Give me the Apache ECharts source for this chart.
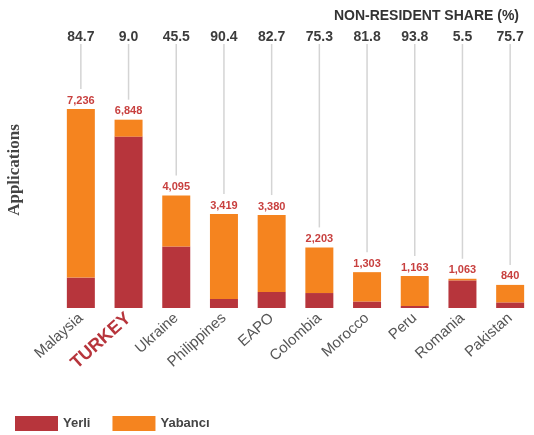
<!DOCTYPE html>
<html>
<head>
<meta charset="utf-8">
<script src="https://cdn.jsdelivr.net/npm/echarts@6/dist/echarts.min.js"></script>
<style>
  html, body { margin: 0; padding: 0; background: #fff; }
  #chart { width: 534px; height: 435px; }
</style>
</head>
<body>
<div id="chart"></div>
<script>
// categories and values
const countries = ['Malaysia', 'TURKEY', 'Ukraine', 'Philippines', 'EAPO', 'Colombia', 'Morocco', 'Peru', 'Romania', 'Pakistan'];
const shares = ['84.7', '9.0', '45.5', '90.4', '82.7', '75.3', '81.8', '93.8', '5.5', '75.7'];
const totals = [7236, 6848, 4095, 3419, 3380, 2203, 1303, 1163, 1063, 840];
const yerli = [1107, 6232, 2232, 328, 585, 544, 237, 72, 1005, 204];
const yabanci = [6129, 616, 1863, 3091, 2795, 1659, 1066, 1091, 58, 636];

const RED = '#b7353c';
const ORANGE = '#f5841f';
const FONT = 'Liberation Sans, Arial, sans-serif';

const chart = echarts.init(document.getElementById('chart'));

chart.setOption({
  animation: false,
  textStyle: { fontFamily: FONT },
  title: {
    text: 'NON-RESIDENT SHARE (%)',
    right: 10, top: 4,
    textStyle: { fontSize: 14, fontWeight: 'bold', color: '#333', fontFamily: FONT }
  },
  legend: {
    left: 15, bottom: 4,
    padding: 0,
    itemWidth: 43, itemHeight: 15, itemGap: 22,
    icon: 'rect',
    data: ['Yerli', 'Yabancı'],
    textStyle: { fontSize: 13, color: '#444', fontWeight: 'bold' }
  },
  graphic: [{
    type: 'text',
    x: 15, y: 170,
    rotation: Math.PI / 2,
    style: {
      text: 'Applications',
      font: 'bold 17px Liberation Serif, Times New Roman, serif',
      fill: '#444',
      align: 'center',
      verticalAlign: 'middle'
    }
  }],
  grid: { left: 57, right: -9, top: 88, bottom: 127 },
  xAxis: [{
    type: 'category',
    data: countries,
    axisLine: { show: false },
    axisTick: { show: false },
    axisLabel: {
      rotate: 42, interval: 0, margin: 8,
      fontSize: 15, color: '#555',
      formatter: v => v === 'TURKEY' ? '{t|TURKEY}' : v,
      rich: { t: { fontSize: 18, fontWeight: 'bold', color: RED, fontFamily: FONT } }
    }
  }, {
    type: 'category',
    position: 'top',
    data: shares,
    axisLine: { show: false },
    axisTick: { show: false },
    axisLabel: { interval: 0, margin: 44, fontSize: 14, fontWeight: 'bold', color: '#3c3c3c' }
  }],
  yAxis: {
    type: 'value',
    min: 0, max: 8000,
    axisLine: { show: false },
    axisTick: { show: false },
    axisLabel: { show: false },
    splitLine: { show: false }
  },
  series: [{
    name: 'Yerli',
    type: 'bar',
    stack: 'apps',
    barWidth: 28,
    itemStyle: { color: RED },
    data: yerli
  }, {
    name: 'Yabancı',
    type: 'bar',
    stack: 'apps',
    barWidth: 28,
    itemStyle: { color: ORANGE },
    label: {
      show: true,
      position: 'top',
      distance: 3,
      fontSize: 11,
      fontWeight: 'bold',
      color: '#c8403f',
      formatter: p => totals[p.dataIndex].toLocaleString('en-US')
    },
    data: yabanci
  }, {
    // grey leader lines from share values down to the totals
    type: 'custom',
    silent: true,
    data: totals.map((t, i) => [i, t]),
    renderItem: (params, api) => {
      const pt = api.coord([api.value(0), api.value(1)]);
      return {
        type: 'line',
        shape: { x1: pt[0], y1: 44, x2: pt[0], y2: pt[1] - 20 },
        style: { stroke: '#d4d4d4', lineWidth: 1.5 }
      };
    }
  }]
});
</script>
</body>
</html>
